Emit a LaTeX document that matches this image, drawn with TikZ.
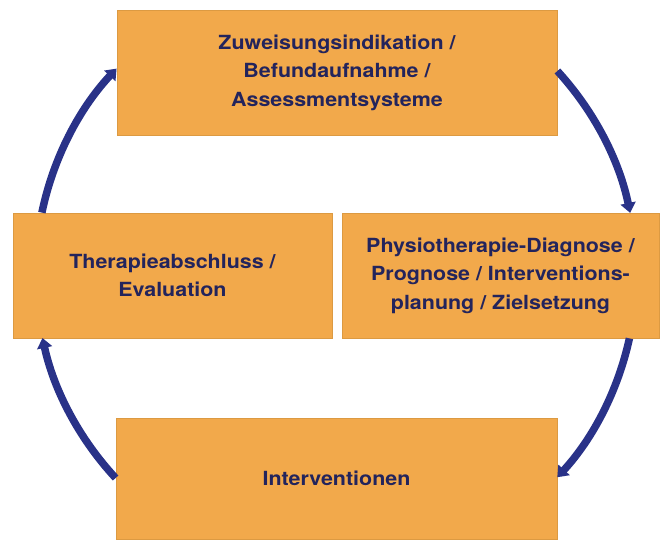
\documentclass[tikz,border=0pt]{standalone}
\usepackage{fontspec}
\setmainfont{TeX Gyre Heros}[FakeStretch=1.1]
\usetikzlibrary{arrows.meta}
\definecolor{boxfill}{HTML}{F2A94B}
\definecolor{boxline}{HTML}{DC9A42}
\definecolor{txtblue}{HTML}{23245C}
\definecolor{arrblue}{HTML}{293288}
\tikzset{
  stage/.style={draw=boxline, line width=0.8pt, fill=boxfill, inner sep=0pt,
    align=center, text=txtblue,
    font=\fontsize{19.5}{28.5}\selectfont\bfseries},
  cyclearrow/.style={draw=arrblue, line width=7.5pt,
    -{Triangle[width=15pt,length=10pt]}}
}
\begin{document}
\begin{tikzpicture}[x=1pt,y=-1pt]
\useasboundingbox (0,0) rectangle (664,539);
\node[stage, minimum width=440pt, minimum height=125pt] (top) at (337,72.5)
  {Zuweisungsindikation /\\Befundaufnahme /\\Assessmentsysteme};
\node[stage, minimum width=319pt, minimum height=125pt] (left) at (172.5,275.5)
  {Therapieabschluss /\\Evaluation};
\node[stage, minimum width=317pt, minimum height=125pt] (right) at (500.5,275.5)
  {Physiotherapie-Diagnose /\\Prognose / Interventions-\\planung / Zielsetzung};
\node[stage, minimum width=441pt, minimum height=121pt] (bottom) at (336.5,478.5)
  {Interventionen};
\draw[cyclearrow] ([xshift=29.3pt]left.north west) arc[start angle=191.73, end angle=223.1, radius=300];
\draw[cyclearrow] (top.east |- 0,71) arc[start angle=317.45, end angle=348.27, radius=300];
\draw[cyclearrow] ([xshift=-30pt]right.south east) arc[start angle=12.32, end angle=42.55, radius=300];
\draw[cyclearrow] (bottom.west |- 0,478) arc[start angle=137.16, end angle=167.68, radius=300];
\end{tikzpicture}
\end{document}
